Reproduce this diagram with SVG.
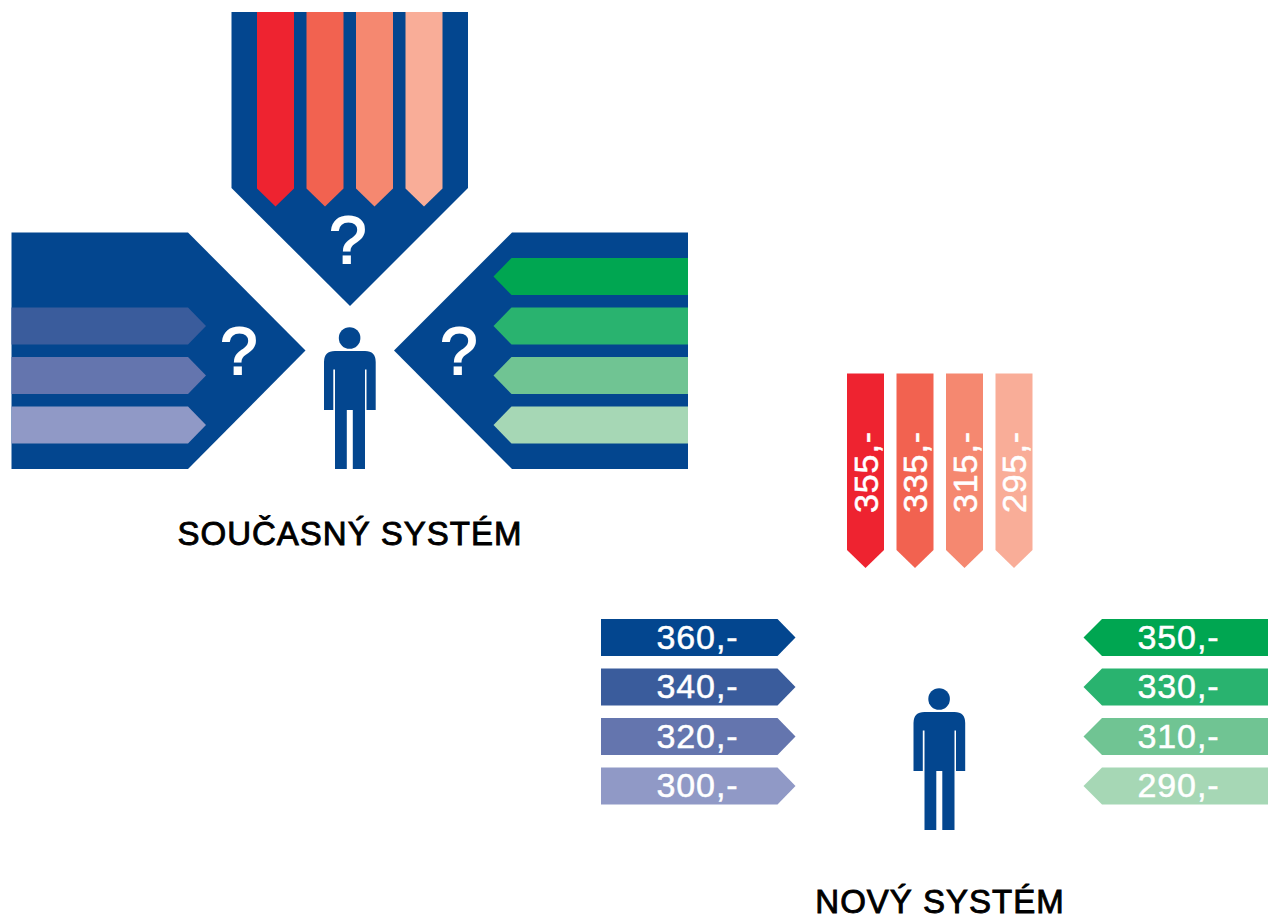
<svg xmlns="http://www.w3.org/2000/svg" xmlns:xlink="http://www.w3.org/1999/xlink" width="1268" height="915" viewBox="0 0 1268 915">
<style>
.lbl{font-family:"Liberation Sans",Arial,sans-serif;font-size:34px;fill:#fff;stroke:#fff;stroke-width:.5px;letter-spacing:.9px}
.q{font-family:"Liberation Sans",Arial,sans-serif;font-size:67px;fill:#fff;stroke:#fff;stroke-width:1.8px;text-anchor:middle}
.title{font-family:"Liberation Sans",Arial,sans-serif;font-size:33px;fill:#000;stroke:#000;stroke-width:.9px;letter-spacing:1px;text-anchor:middle}
.panel{fill:#03468f}
.b1{fill:#03468f}.b2{fill:#3a5c9c}.b3{fill:#6475ae}.b4{fill:#9099c6}
.r1{fill:#ee2330}.r2{fill:#f26250}.r3{fill:#f58870}.r4{fill:#f9ad98}
.g1{fill:#00a651}.g2{fill:#29b36f}.g3{fill:#70c493}.g4{fill:#a6d7b5}
</style>
<defs>
<path id="ar" d="M0 0H176.500L194.500 18.500L176.500 37H0Z"/>
<path id="al" d="M0 0H-176.500L-194.500 18.500L-176.500 37H0Z"/>
<path id="al2" d="M0 0H-166L-184.500 18.500L-166 37H0Z"/>
<path id="ad" d="M0 0V176.500L18.500 194.500L37 176.500V0Z"/>
<g id="person">
<circle cx="349.600" cy="338" r="10.800" class="panel"/>
<path class="panel" d="M335 351H365Q375.700 351 375.700 362V410H366.500V369.500H365V469H352.800V410H346.800V469H335V369.500H333.300V410H324V362Q324 351 335 351Z"/>
</g>
</defs>
<g id="current-top">
<path class="panel" d="M231.500 12H468V188L350 306L231.500 188Z"/>
<use xlink:href="#ad" x="257" y="12" class="r1"/>
<use xlink:href="#ad" x="306.500" y="12" class="r2"/>
<use xlink:href="#ad" x="356" y="12" class="r3"/>
<use xlink:href="#ad" x="405.500" y="12" class="r4"/>
<text class="q" x="348" y="262.500">?</text>
</g>
<g id="current-left">
<path class="panel" d="M11.500 232.500H188L305.500 350.500L188 469H11.500Z"/>
<use xlink:href="#ar" x="11.500" y="307.500" class="b2"/>
<use xlink:href="#ar" x="11.500" y="357" class="b3"/>
<use xlink:href="#ar" x="11.500" y="406.500" class="b4"/>
<text class="q" x="239" y="374">?</text>
</g>
<g id="current-right">
<path class="panel" d="M688 232.500H512L394 350.500L512 469H688Z"/>
<use xlink:href="#al" x="688" y="258" class="g1"/>
<use xlink:href="#al" x="688" y="307.500" class="g2"/>
<use xlink:href="#al" x="688" y="357" class="g3"/>
<use xlink:href="#al" x="688" y="406.500" class="g4"/>
<text class="q" x="459" y="374">?</text>
</g>
<g id="current-person"><use xlink:href="#person"/></g>
<g id="current-title"><text class="title" x="350" y="545">SOUČASNÝ SYSTÉM</text></g>
<g id="new-top">
<use xlink:href="#ad" x="847" y="373.500" class="r1"/>
<use xlink:href="#ad" x="896.500" y="373.500" class="r2"/>
<use xlink:href="#ad" x="946" y="373.500" class="r3"/>
<use xlink:href="#ad" x="995.500" y="373.500" class="r4"/>
<text class="lbl" transform="translate(877.500 513) rotate(-90)">355,-</text>
<text class="lbl" transform="translate(927 513) rotate(-90)">335,-</text>
<text class="lbl" transform="translate(976.500 513) rotate(-90)">315,-</text>
<text class="lbl" transform="translate(1026 513) rotate(-90)">295,-</text>
</g>
<g id="new-left">
<use xlink:href="#ar" x="601" y="619" class="b1"/>
<use xlink:href="#ar" x="601" y="668.500" class="b2"/>
<use xlink:href="#ar" x="601" y="718" class="b3"/>
<use xlink:href="#ar" x="601" y="767.500" class="b4"/>
<text class="lbl" x="656.500" y="648.500">360,-</text>
<text class="lbl" x="656.500" y="698">340,-</text>
<text class="lbl" x="656.500" y="747.500">320,-</text>
<text class="lbl" x="656.500" y="797">300,-</text>
</g>
<g id="new-right">
<use xlink:href="#al2" x="1268" y="619" class="g1"/>
<use xlink:href="#al2" x="1268" y="668.500" class="g2"/>
<use xlink:href="#al2" x="1268" y="718" class="g3"/>
<use xlink:href="#al2" x="1268" y="767.500" class="g4"/>
<text class="lbl" x="1137.500" y="648.500">350,-</text>
<text class="lbl" x="1137.500" y="698">330,-</text>
<text class="lbl" x="1137.500" y="747.500">310,-</text>
<text class="lbl" x="1137.500" y="797">290,-</text>
</g>
<g id="new-person"><use xlink:href="#person" x="589.500" y="361"/></g>
<g id="new-title"><text class="title" x="940" y="913">NOVÝ SYSTÉM</text></g>
</svg>
